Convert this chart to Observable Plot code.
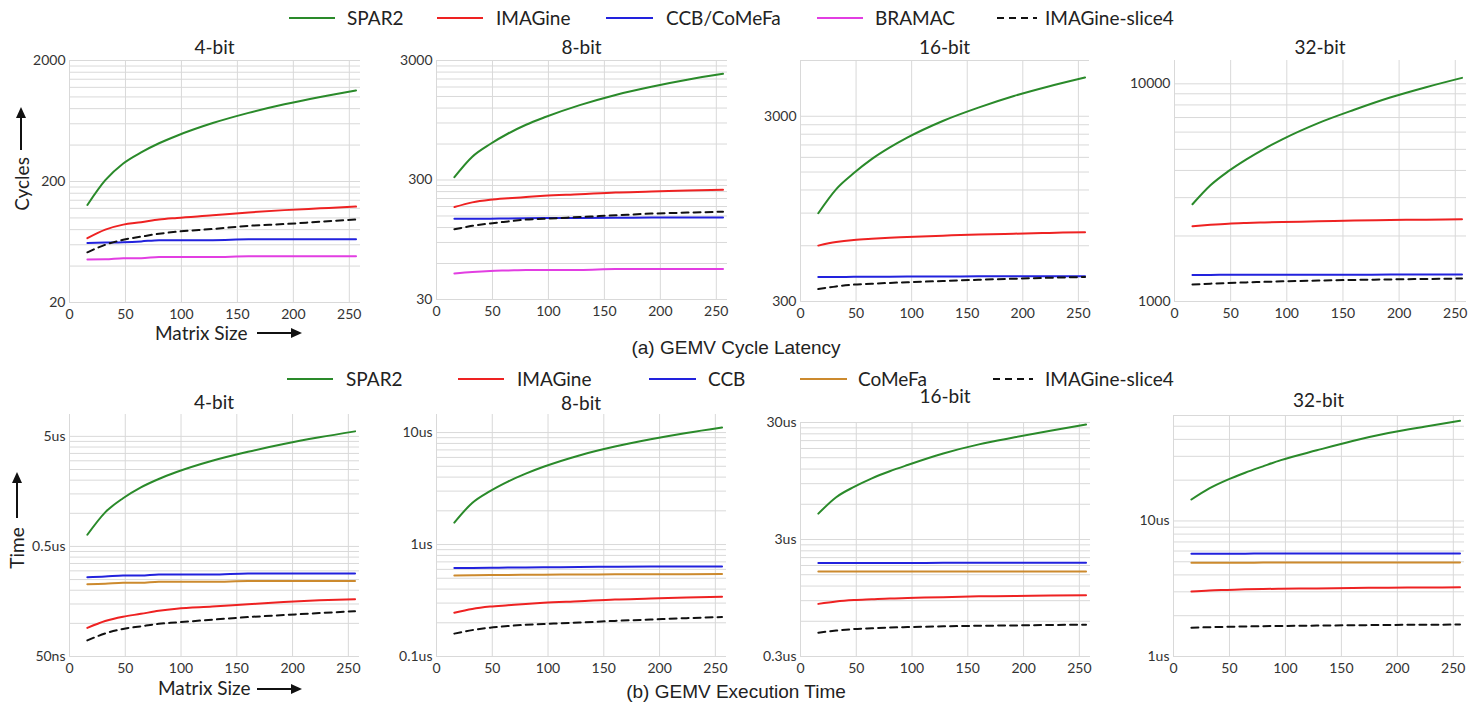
<!DOCTYPE html>
<html><head><meta charset="utf-8">
<script src="https://cdn.jsdelivr.net/npm/d3@7"></script>
<script src="https://cdn.jsdelivr.net/npm/@observablehq/plot@0.6"></script>
<style>
body{margin:0;background:#fff;}
#page{position:relative;width:1469px;height:707px;overflow:hidden;background:#fff;font-family:Lato,"Open Sans",sans-serif;}
#page svg{position:absolute;}
</style></head><body><div id="page"></div>
<script>
// ---------- DATA ----------
const sizes = [16, 32, 48, 64, 80, 96, 128, 160, 192, 224, 256];
const xTicks = [0, 50, 100, 150, 200, 250];

const legendTop = ["SPAR2", "IMAGine", "CCB/CoMeFa", "BRAMAC", "IMAGine-slice4"];
const legendBottom = ["SPAR2", "IMAGine", "CCB", "CoMeFa", "IMAGine-slice4"];
const titles = ["4-bit", "8-bit", "16-bit", "32-bit"];
const captionTop = "(a) GEMV Cycle Latency";
const captionBottom = "(b) GEMV Execution Time";

// Cycle latency (cycles)
const cyc4_SPAR2   = [128, 205, 282, 348, 414, 478, 608, 738, 869, 999, 1130];
const cyc4_IMAGine = [68, 80, 88, 92, 97, 100, 105, 111, 116, 120, 124];
const cyc4_CCB     = [62, 62.5, 63, 64, 65.5, 65.5, 65.5, 66.5, 66.5, 66.5, 66.5];
const cyc4_BRAMAC  = [45.4, 45.5, 46.5, 46.5, 47.5, 47.5, 47.5, 48.2, 48.2, 48.2, 48.2];
const cyc4_slice4  = [52, 60, 66, 70, 74, 77, 81, 86, 89, 93, 97];

const cyc8_SPAR2   = [317, 470, 600, 735, 870, 1000, 1270, 1545, 1810, 2070, 2320];
const cyc8_IMAGine = [178, 195, 205, 211, 216, 221, 228, 236, 240, 245, 249];
const cyc8_CCB     = [142, 142, 142.5, 143, 143.5, 144, 144.5, 145, 145.5, 146, 146];
const cyc8_BRAMAC  = [49.6, 51, 52, 52.5, 53, 53, 53, 54, 54, 54, 54];
const cyc8_slice4  = [116, 124, 130, 135, 140, 142, 147, 152, 157, 160, 163];

const cyc16_SPAR2   = [899, 1210, 1480, 1760, 2030, 2300, 2830, 3340, 3860, 4360, 4860];
const cyc16_IMAGine = [601, 628, 645, 655, 663, 669, 680, 690, 697, 704, 710];
const cyc16_CCB     = [407, 407, 407.5, 408, 408.5, 409, 409.5, 410, 410.5, 411, 411];
const cyc16_slice4  = [350, 362, 370, 374, 378, 381, 387, 393, 398, 403, 407];

const cyc32_SPAR2   = [2797, 3420, 3970, 4500, 5030, 5560, 6600, 7600, 8650, 9650, 10650];
const cyc32_IMAGine = [2216, 2250, 2278, 2295, 2308, 2318, 2335, 2355, 2367, 2377, 2386];
const cyc32_CCB     = [1325, 1325, 1326, 1326, 1327, 1327, 1328, 1328, 1329, 1330, 1330];
const cyc32_slice4  = [1197, 1208, 1216, 1224, 1231, 1238, 1248, 1256, 1263, 1269, 1275];

// Execution time (us)
const t4_SPAR2   = [0.638, 1.02, 1.37, 1.72, 2.05, 2.37, 3.0, 3.62, 4.26, 4.9, 5.55];
const t4_IMAGine = [0.091, 0.105, 0.115, 0.122, 0.130, 0.136, 0.142, 0.149, 0.156, 0.162, 0.166];
const t4_CCB     = [0.263, 0.266, 0.272, 0.272, 0.278, 0.278, 0.278, 0.284, 0.284, 0.284, 0.284];
const t4_CoMeFa  = [0.227, 0.229, 0.234, 0.234, 0.239, 0.239, 0.239, 0.242, 0.242, 0.242, 0.242];
const t4_slice4  = [0.070, 0.081, 0.089, 0.094, 0.099, 0.102, 0.108, 0.114, 0.119, 0.124, 0.129];

const t8_SPAR2   = [1.57, 2.35, 3.0, 3.65, 4.3, 4.95, 6.25, 7.5, 8.7, 9.9, 11.08];
const t8_IMAGine = [0.246, 0.266, 0.279, 0.287, 0.295, 0.302, 0.312, 0.323, 0.329, 0.336, 0.342];
const t8_CCB     = [0.616, 0.618, 0.620, 0.622, 0.624, 0.626, 0.630, 0.633, 0.635, 0.637, 0.638];
const t8_CoMeFa  = [0.530, 0.532, 0.534, 0.535, 0.537, 0.538, 0.540, 0.542, 0.543, 0.544, 0.545];
const t8_slice4  = [0.160, 0.172, 0.181, 0.187, 0.192, 0.195, 0.201, 0.208, 0.214, 0.220, 0.225];

const t16_SPAR2   = [4.99, 6.9, 8.45, 10.0, 11.5, 13.0, 16.3, 19.5, 22.4, 25.5, 28.8];
const t16_IMAGine = [0.845, 0.885, 0.91, 0.925, 0.94, 0.948, 0.965, 0.98, 0.988, 0.996, 1.003];
const t16_CCB     = [1.89, 1.89, 1.89, 1.89, 1.89, 1.89, 1.895, 1.895, 1.9, 1.9, 1.9];
const t16_CoMeFa  = [1.60, 1.60, 1.60, 1.60, 1.60, 1.60, 1.60, 1.60, 1.60, 1.60, 1.60];
const t16_slice4  = [0.479, 0.500, 0.515, 0.523, 0.530, 0.535, 0.543, 0.549, 0.553, 0.558, 0.561];

const t32_SPAR2   = [14.4, 17.4, 20.1, 22.7, 25.3, 28.1, 33.2, 38.9, 44.5, 49.6, 54.8];
const t32_IMAGine = [3.02, 3.07, 3.10, 3.13, 3.15, 3.16, 3.18, 3.20, 3.22, 3.23, 3.24];
const t32_CCB     = [5.74, 5.74, 5.74, 5.74, 5.75, 5.75, 5.75, 5.75, 5.75, 5.75, 5.75];
const t32_CoMeFa  = [4.92, 4.92, 4.92, 4.92, 4.93, 4.93, 4.93, 4.93, 4.93, 4.93, 4.93];
const t32_slice4  = [1.63, 1.645, 1.655, 1.665, 1.675, 1.68, 1.69, 1.70, 1.71, 1.715, 1.72];

// y-axis labelled ticks and domains
const yTicks_c4 = [20, 200, 2000],   yDom_c4 = [20, 2000];
const yTicks_c8 = [30, 300, 3000],   yDom_c8 = [30, 3000];
const yTicks_c16 = [300, 3000],      yDom_c16 = [300, 6000];
const yTicks_c32 = [1000, 10000],    yDom_c32 = [1000, 12800];
const yTicks_t4 = [0.05, 0.5, 5],    yDom_t4 = [0.05, 7.9];
const yTicks_t8 = [0.1, 1, 10],      yDom_t8 = [0.1, 14.5];
const yTicks_t16 = [0.3, 3, 30],     yDom_t16 = [0.3, 30];
const yTicks_t32 = [1, 10],          yDom_t32 = [1, 60];

// ---------- STYLE ----------
const colors = {"SPAR2":"#2a8a2a","IMAGine":"#ee2222","CCB/CoMeFa":"#2222dd","CCB":"#2222dd",
  "CoMeFa":"#cc8a2e","BRAMAC":"#e23ee2","IMAGine-slice4":"#111"};
const dash = {"IMAGine-slice4":"7,5"};
const gridColor = "#d9d9d9";
const tickColor = "#333";

const page = document.getElementById("page");
const fmtCyc = d => String(Math.round(d));
const fmtTime = d => d < 0.1 ? Math.round(d * 1000) + "ns" : (+d.toPrecision(3)) + "us";

function minorGrid([lo, hi]) {
  const out = [];
  for (let n = 0; n < 6; n++) for (let k = 1; k <= 9; k++) {
    const v = +(lo * Math.pow(10, n) * k).toPrecision(6);
    if (v <= hi * 1.0001) out.push(v);
  }
  return out;
}

function panel(series, yDom, yTicks, fmt, box) {
  const [x0, x1, y0, y1] = box;
  const mL = 60, mR = 6, mT = 4, mB = 26;
  const marks = [
    Plot.ruleY(minorGrid(yDom), {stroke: gridColor, strokeWidth: 1}),
    Plot.ruleX(xTicks, {stroke: gridColor, strokeWidth: 1}),
    Plot.text(yTicks.map(v => ({x: 0, y: v})), {x: "x", y: "y", text: d => fmt(d.y),
      textAnchor: "end", dx: -4, fill: tickColor, fontSize: 14})
  ];
  for (const [name, vals] of series) {
    const rows = vals.map((v, i) => ({x: sizes[i], y: v}));
    marks.push(Plot.line(rows, {x: "x", y: "y", stroke: colors[name], strokeWidth: 2,
      strokeDasharray: dash[name], curve: "monotone-x"}));
  }
  const chart = Plot.plot({
    width: (x1 - x0) + mL + mR, height: (y1 - y0) + mT + mB,
    marginLeft: mL, marginRight: mR, marginTop: mT, marginBottom: mB,
    x: {domain: [0, 260], ticks: xTicks, tickSize: 0, tickPadding: 7, label: null, tickFormat: d => String(d)},
    y: {type: "log", domain: yDom, axis: null},
    style: {fontFamily: "Lato", fontSize: "14px", color: tickColor, background: "none", overflow: "visible"},
    marks
  });
  chart.style.left = (x0 - mL) + "px";
  chart.style.top = (y0 - mT) + "px";
  page.appendChild(chart);
}

// ---------- PANELS ----------
const boxesTop = [[69, 360, 60, 302], [436, 727, 60, 299], [800, 1089, 60, 301], [1174, 1466, 60, 301]];
const boxesBot = [[69, 359, 414, 656], [436, 726, 414, 656], [800, 1090, 422, 656], [1173, 1464, 415, 656]];

panel([["SPAR2", cyc4_SPAR2], ["IMAGine", cyc4_IMAGine], ["CCB/CoMeFa", cyc4_CCB], ["BRAMAC", cyc4_BRAMAC], ["IMAGine-slice4", cyc4_slice4]], yDom_c4, yTicks_c4, fmtCyc, boxesTop[0]);
panel([["SPAR2", cyc8_SPAR2], ["IMAGine", cyc8_IMAGine], ["CCB/CoMeFa", cyc8_CCB], ["BRAMAC", cyc8_BRAMAC], ["IMAGine-slice4", cyc8_slice4]], yDom_c8, yTicks_c8, fmtCyc, boxesTop[1]);
panel([["SPAR2", cyc16_SPAR2], ["IMAGine", cyc16_IMAGine], ["CCB/CoMeFa", cyc16_CCB], ["IMAGine-slice4", cyc16_slice4]], yDom_c16, yTicks_c16, fmtCyc, boxesTop[2]);
panel([["SPAR2", cyc32_SPAR2], ["IMAGine", cyc32_IMAGine], ["CCB/CoMeFa", cyc32_CCB], ["IMAGine-slice4", cyc32_slice4]], yDom_c32, yTicks_c32, fmtCyc, boxesTop[3]);

panel([["SPAR2", t4_SPAR2], ["CCB", t4_CCB], ["CoMeFa", t4_CoMeFa], ["IMAGine", t4_IMAGine], ["IMAGine-slice4", t4_slice4]], yDom_t4, yTicks_t4, fmtTime, boxesBot[0]);
panel([["SPAR2", t8_SPAR2], ["CCB", t8_CCB], ["CoMeFa", t8_CoMeFa], ["IMAGine", t8_IMAGine], ["IMAGine-slice4", t8_slice4]], yDom_t8, yTicks_t8, fmtTime, boxesBot[1]);
panel([["SPAR2", t16_SPAR2], ["CCB", t16_CCB], ["CoMeFa", t16_CoMeFa], ["IMAGine", t16_IMAGine], ["IMAGine-slice4", t16_slice4]], yDom_t16, yTicks_t16, fmtTime, boxesBot[2]);
panel([["SPAR2", t32_SPAR2], ["CCB", t32_CCB], ["CoMeFa", t32_CoMeFa], ["IMAGine", t32_IMAGine], ["IMAGine-slice4", t32_slice4]], yDom_t32, yTicks_t32, fmtTime, boxesBot[3]);

// ---------- OVERLAY: legends, titles, axis labels, captions ----------
const NS = "http://www.w3.org/2000/svg";
const ov = document.createElementNS(NS, "svg");
ov.setAttribute("width", 1469); ov.setAttribute("height", 707);
ov.style.left = "0px"; ov.style.top = "0px";
page.appendChild(ov);
function el(tag, attrs, text) {
  const e = document.createElementNS(NS, tag);
  for (const k in attrs) e.setAttribute(k, attrs[k]);
  if (text != null) e.textContent = text;
  ov.appendChild(e);
  return e;
}

const legPosTop = [[289, 335, 347], [437, 483, 496], [606, 653, 666], [817, 863, 875], [997, 1037, 1045]];
const legPosBot = [[287, 333, 346], [458, 504, 517], [649, 696, 708], [800, 847, 858], [993, 1033, 1045]];
function legend(names, pos, y) {
  names.forEach((n, i) => {
    const [a, b, t] = pos[i];
    el("line", {x1: a, x2: b, y1: y, y2: y, stroke: colors[n], "stroke-width": 2, "stroke-dasharray": dash[n] || "none"});
    el("text", {x: t, y: y + 7, "font-family": "Lato", "font-size": 19, fill: "#222"}, n);
  });
}
legend(legendTop, legPosTop, 18);
legend(legendBottom, legPosBot, 379);

const titleY = [[47, 47, 47, 47], [402, 403, 396, 400]];
[boxesTop, boxesBot].forEach((boxes, r) => boxes.forEach((b, i) => {
  el("text", {x: (b[0] + b[1]) / 2, y: titleY[r][i] + 7, "text-anchor": "middle", "font-family": "Lato", "font-size": 19, fill: "#222"}, titles[i]);
}));

// axis labels with arrows
function arrowH(x1, x2, y) {
  el("line", {x1, x2: x2 - 8, y1: y, y2: y, stroke: "#111", "stroke-width": 2});
  el("path", {d: `M${x2},${y} L${x2 - 11},${y - 5} L${x2 - 11},${y + 5} Z`, fill: "#111"});
}
function arrowV(x, y1, y2) {
  el("line", {x1: x, x2: x, y1, y2: y2 + 8, stroke: "#111", "stroke-width": 2});
  el("path", {d: `M${x},${y2} L${x - 5},${y2 + 11} L${x + 5},${y2 + 11} Z`, fill: "#111"});
}
el("text", {x: 155, y: 340, "font-family": "Lato", "font-size": 19, fill: "#222"}, "Matrix Size");
arrowH(257, 302, 333);
el("text", {x: 158, y: 695, "font-family": "Lato", "font-size": 19, fill: "#222"}, "Matrix Size");
arrowH(257, 302, 689);
el("text", {transform: "translate(29,184) rotate(-90)", "text-anchor": "middle", "font-family": "Lato", "font-size": 19, fill: "#222"}, "Cycles");
arrowV(21, 150, 107);
el("text", {transform: "translate(24,548) rotate(-90)", "text-anchor": "middle", "font-family": "Lato", "font-size": 19, fill: "#222"}, "Time");
arrowV(17, 518, 472);

el("text", {x: 736, y: 354, "text-anchor": "middle", "font-family": "Liberation Sans, Arial", "font-size": 19, fill: "#222"}, captionTop);
el("text", {x: 736, y: 698, "text-anchor": "middle", "font-family": "Liberation Sans, Arial", "font-size": 19, fill: "#222"}, captionBottom);
</script>
</body></html>
